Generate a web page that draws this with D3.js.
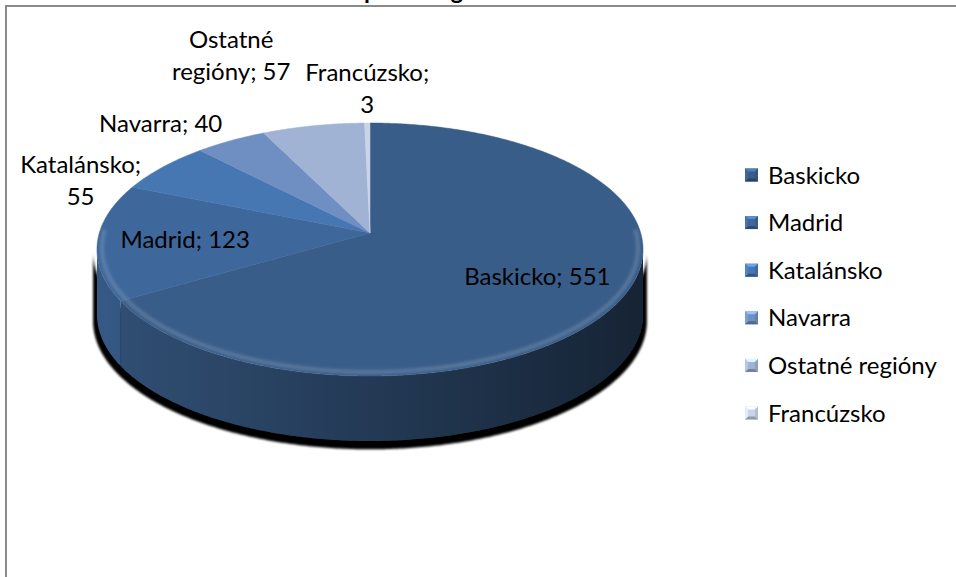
<!DOCTYPE html>
<html><head><meta charset="utf-8">
<script src="https://cdn.jsdelivr.net/npm/d3@7/dist/d3.min.js"></script>
<style>body{margin:0;background:#fff;} svg{display:block;}</style>
</head><body>
<svg id="chart" width="956" height="577"></svg>
<script>
// ---- data ----
const categories = ["Baskicko", "Madrid", "Katalánsko", "Navarra", "Ostatné regióny", "Francúzsko"];
const values = [551, 123, 55, 40, 57, 3];
const labelLines = [["Baskicko; 551"], ["Madrid; 123"], ["Katalánsko;", "55"], ["Navarra; 40"], ["Ostatné", "regióny; 57"], ["Francúzsko;", "3"]];
const titleText = "Počet osôb podľa regiónu";

// ---- style / layout ----
const colors = ["#395d89", "#3e679b", "#4777b2", "#6f8fc2", "#a0b3d5", "#c9d4e9"];
const font = "Lato, 'Open Sans', sans-serif";
const W = 956, H = 577;
const cx = 370, cy = 233;          // apex of the pie
const A = 270.7, B = 124.35, k = 0.1304; // perspective projection of the disc
const depth = 65;
// label placement: inside labels at radius fraction, outside labels offset from rim
const labelLayout = [
  {r: 0.68, dx: 0, dy: 0}, {r: 0.68, dx: 0, dy: 0},
  {r: 1, dx: -82, dy: 13}, {r: 1, dx: -70, dy: -17},
  {r: 1, dx: -82, dy: -70}, {r: 1, dx: 0, dy: -35}
];
const lineH = 32;
const labelSize = 24;

const svg = d3.select("#chart");
const defs = svg.append("defs");

// border
svg.append("path").attr("d", `M6,${H} V6 H${W}`).attr("fill", "none")
  .attr("stroke", "#8a8a8a").attr("stroke-width", 2);

// title (cut off at top, as in the original)
const title = svg.append("text").attr("y", -1).attr("font-family", font)
  .attr("font-weight", "bold").attr("font-size", 24).attr("fill", "#000").text(titleText);
const pIdx = titleText.indexOf("podľa");
const pre = title.node().getSubStringLength(0, pIdx);
title.attr("x", 364 - pre);

// projection
function P(theta, r = 1, dz = 0) {
  const u = Math.sin(theta) * r, v = -Math.cos(theta) * r;
  const den = 1 - k * v;
  return [cx + A * u / den, cy + B * v / den + dz];
}
function arcPts(a0, a1, r = 1, dz = 0) {
  const n = Math.max(2, Math.ceil(Math.abs(a1 - a0) / 0.01));
  return d3.range(n + 1).map(i => P(a0 + (a1 - a0) * i / n, r, dz));
}
const line = d3.line();

const pie = d3.pie().sort(null).value(d => d)(values);

const tA = Math.acos(-k), tB = 2 * Math.PI - Math.acos(-k);

// shadow
defs.append("filter").attr("id", "blur").append("feGaussianBlur").attr("stdDeviation", 1.2);
{
  const top = arcPts(tA, tB, 1.014, 2);
  const bot = arcPts(tB, tA, 1.014, depth + 6);
  svg.append("path").attr("d", line(top.concat(bot)) + "Z").attr("fill", "#000").attr("filter", "url(#blur)");
}

// side shade gradient
const g = defs.append("linearGradient").attr("id", "sideShade").attr("gradientUnits", "userSpaceOnUse")
  .attr("x1", cx - A * 1.01).attr("x2", cx + A * 1.01).attr("y1", 0).attr("y2", 0);
g.append("stop").attr("offset", 0).attr("stop-color", "#000").attr("stop-opacity", 0.14);
g.append("stop").attr("offset", 0.5).attr("stop-color", "#000").attr("stop-opacity", 0.38);
g.append("stop").attr("offset", 1).attr("stop-color", "#000").attr("stop-opacity", 0.62);

// walls
pie.forEach((d, i) => {
  const lo = Math.max(d.startAngle, tA), hi = Math.min(d.endAngle, tB);
  if (hi <= lo) return;
  const pts = arcPts(lo, hi, 1, 0).concat(arcPts(hi, lo, 1, depth));
  const dd = line(pts) + "Z";
  svg.append("path").attr("d", dd).attr("fill", colors[i]);
  svg.append("path").attr("d", dd).attr("fill", "url(#sideShade)");
});

// tops
pie.forEach((d, i) => {
  const pts = [[cx, cy]].concat(arcPts(d.startAngle, d.endAngle, 1, 0));
  svg.append("path").attr("d", line(pts) + "Z").attr("fill", colors[i])
    .attr("stroke", colors[i]).attr("stroke-width", 0.5);
});

// soft bevel along front edge
defs.append("filter").attr("id", "soft").append("feGaussianBlur").attr("stdDeviation", 1.5);
svg.append("path").attr("d", line(arcPts(tA - 0.15, tB + 0.15, 0.982, -1))).attr("fill", "none")
  .attr("stroke", "#fff").attr("stroke-opacity", 0.16).attr("stroke-width", 4).attr("filter", "url(#soft)");

// labels
pie.forEach((d, i) => {
  const L = labelLayout[i];
  const mid = (d.startAngle + d.endAngle) / 2;
  const p = P(mid, L.r, 0);
  const x = p[0] + L.dx, y = p[1] + L.dy;
  const lines = labelLines[i];
  const t = svg.append("text").attr("font-family", font).attr("font-size", labelSize)
    .attr("fill", "#000").attr("text-anchor", "middle");
  lines.forEach((s, j) => {
    t.append("tspan").attr("x", x)
      .attr("y", y + (j - (lines.length - 1) / 2) * lineH + labelSize * 0.36).text(s);
  });
});

// legend
const legY = d3.scalePoint().domain(categories).range([175, 413]);
const lg = svg.append("g");
categories.forEach((c, i) => {
  const y = legY(c), x0 = 745, s = 13, y0 = y - s / 2, b = 3;
  const col = d3.color(colors[i]);
  const gg = lg.append("g");
  gg.append("rect").attr("x", x0).attr("y", y0).attr("width", s).attr("height", s).attr("fill", col);
  const poly = (pts, f) => gg.append("polygon").attr("points", pts.map(p => p.join(",")).join(" ")).attr("fill", f);
  poly([[x0, y0], [x0 + s, y0], [x0 + s - b, y0 + b], [x0 + b, y0 + b]], d3.color(colors[i]).brighter(0.9));
  poly([[x0, y0 + s], [x0 + s, y0 + s], [x0 + s - b, y0 + s - b], [x0 + b, y0 + s - b]], d3.color(colors[i]).darker(0.9));
  poly([[x0, y0], [x0 + b, y0 + b], [x0 + b, y0 + s - b], [x0, y0 + s]], d3.color(colors[i]).brighter(0.3));
  poly([[x0 + s, y0], [x0 + s - b, y0 + b], [x0 + s - b, y0 + s - b], [x0 + s, y0 + s]], d3.color(colors[i]).darker(0.3));
  lg.append("text").attr("x", 768).attr("y", y + 8.5).attr("font-family", font).attr("font-size", labelSize)
    .attr("fill", "#000").text(c);
});
</script>
</body></html>
